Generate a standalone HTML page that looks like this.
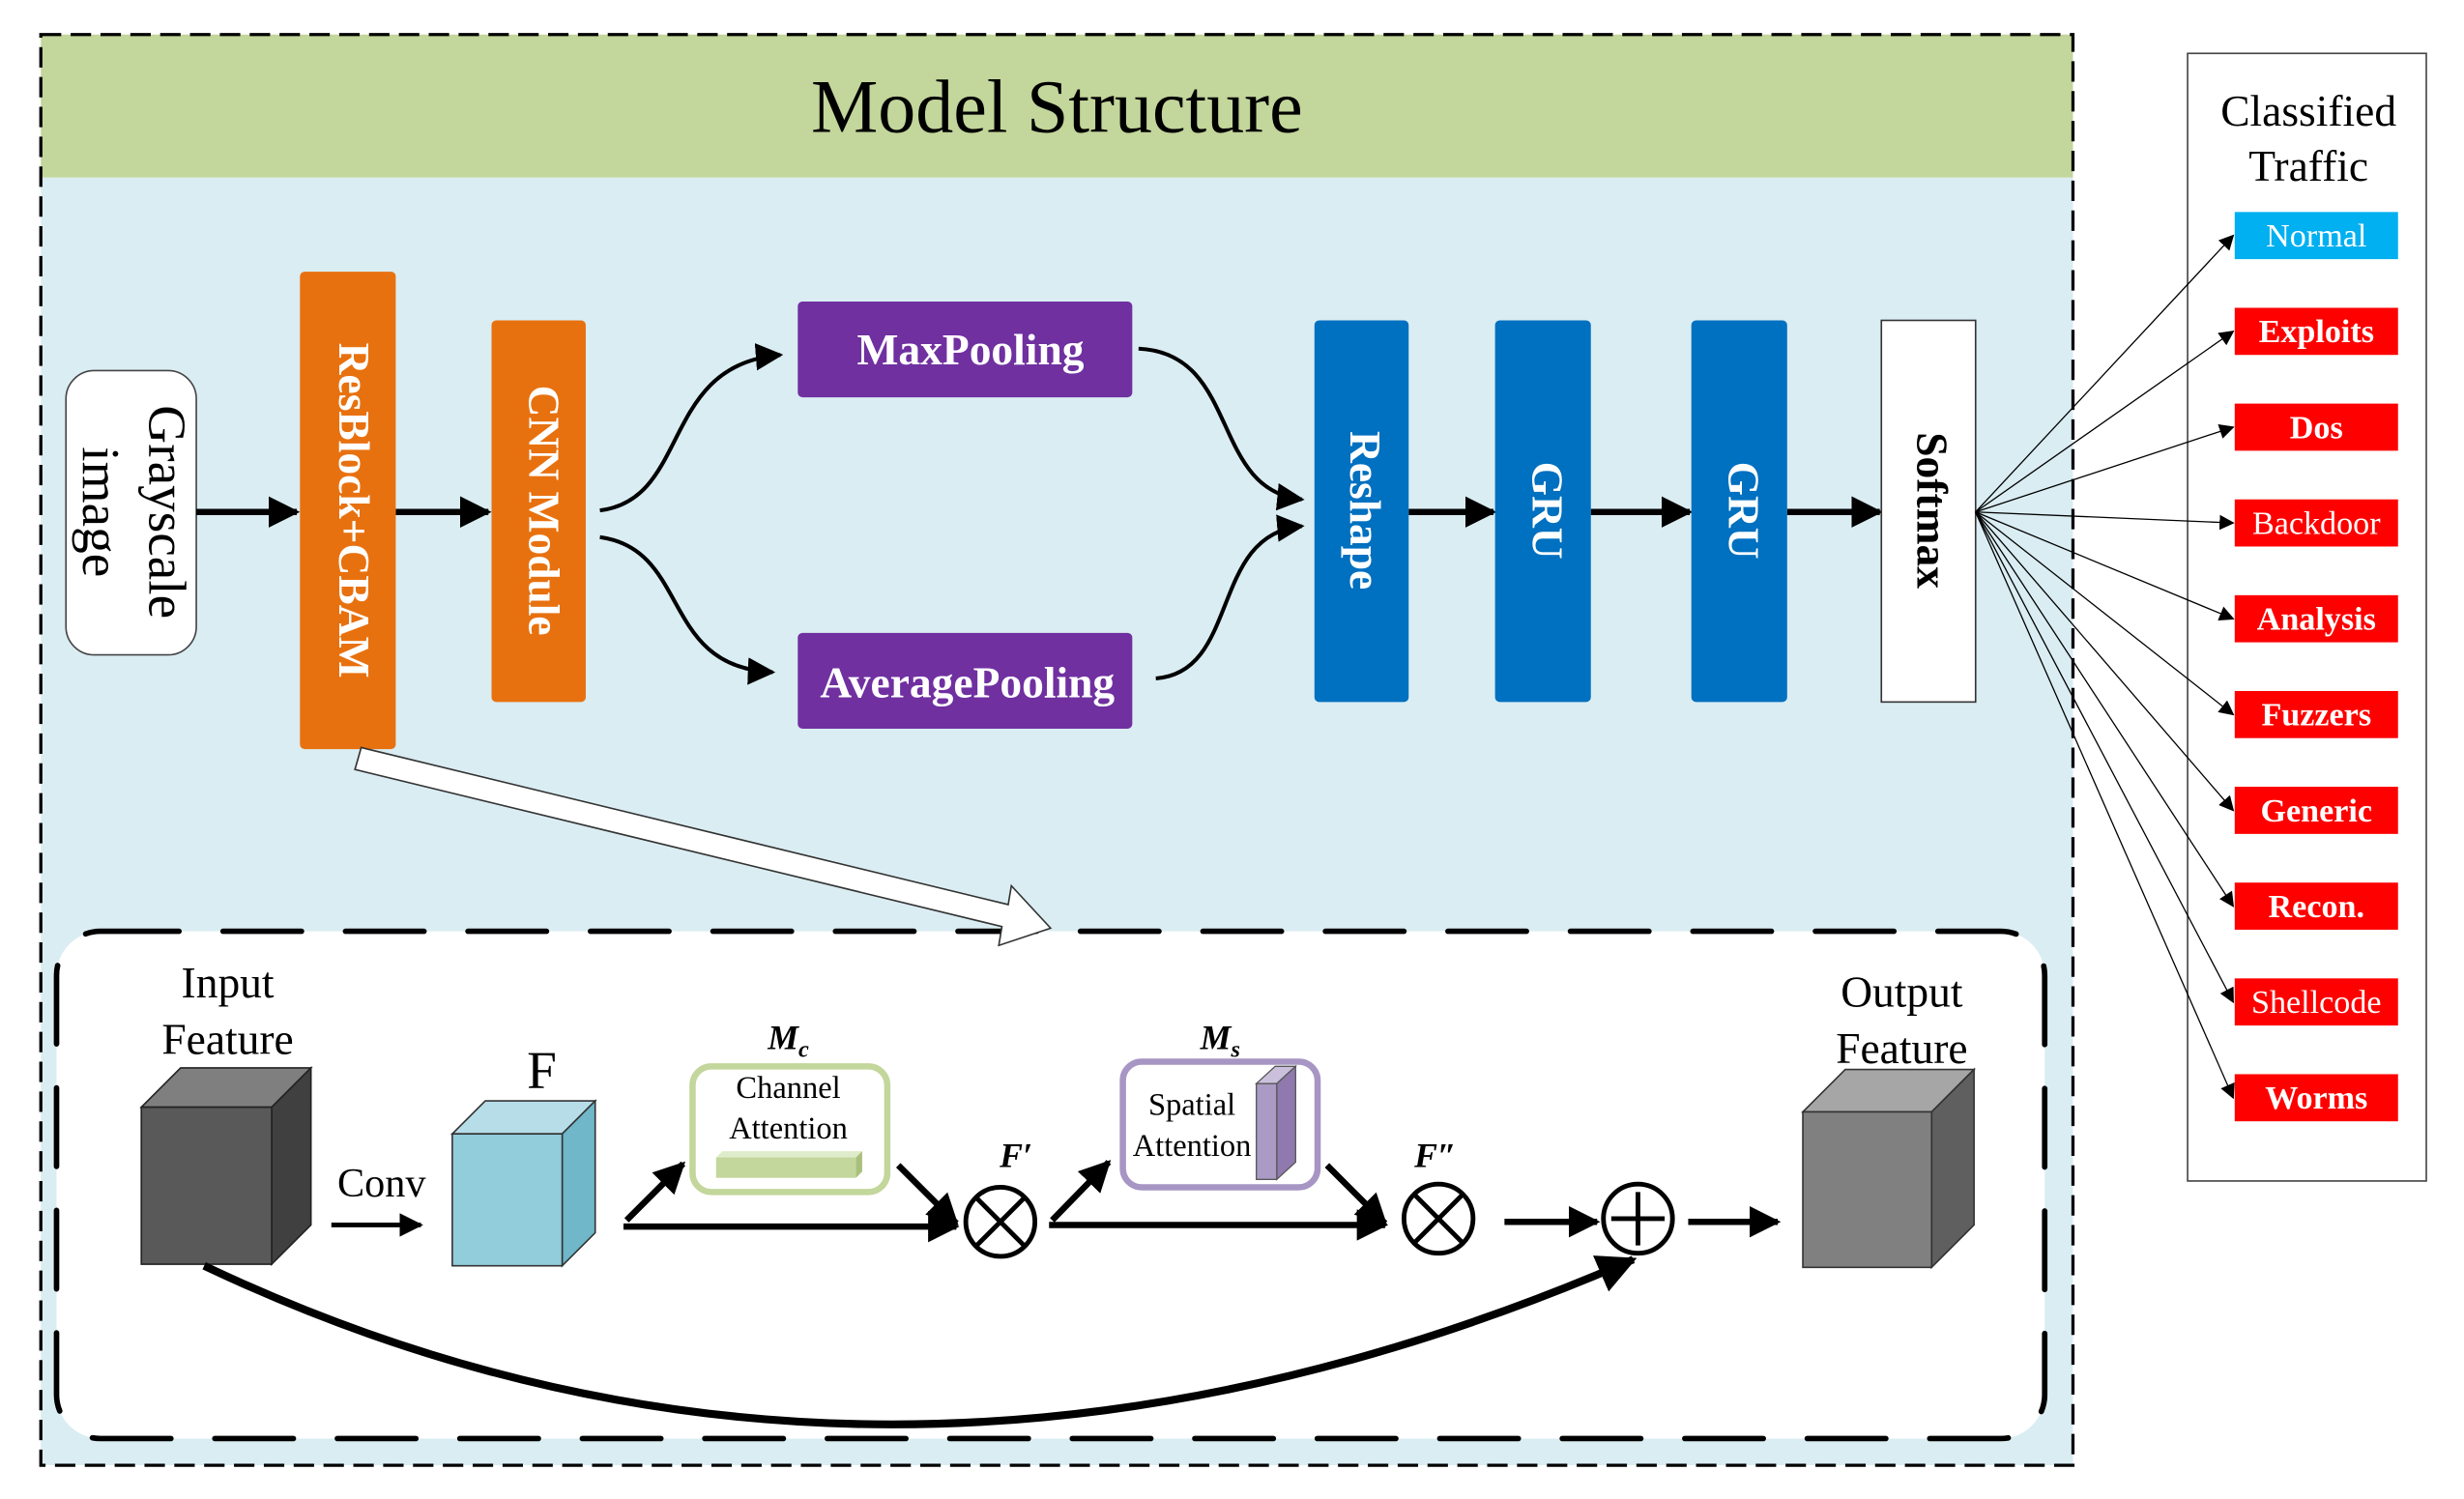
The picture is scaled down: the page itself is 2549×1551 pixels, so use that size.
<!DOCTYPE html>
<html><head><meta charset="utf-8"><style>html,body{margin:0;padding:0;background:#fff}svg{display:block}</style></head>
<body>
<svg width="2549" height="1551" viewBox="0 0 1569 954.5" preserveAspectRatio="none" xmlns="http://www.w3.org/2000/svg" font-family="Liberation Serif, serif">
<defs>
<marker id="ah" viewBox="0 0 10 10" refX="9" refY="5" markerWidth="5" markerHeight="5" orient="auto" markerUnits="strokeWidth"><path d="M0,0L10,5L0,10z" fill="#000"/></marker>
<marker id="ah2" viewBox="0 0 10 10" refX="9" refY="5" markerWidth="7" markerHeight="7" orient="auto" markerUnits="strokeWidth"><path d="M0,0L10,5L0,10z" fill="#000"/></marker>
<marker id="ah3" viewBox="0 0 10 10" refX="9" refY="5" markerWidth="12" markerHeight="12" orient="auto" markerUnits="strokeWidth"><path d="M0,0L10,5L0,10z" fill="#000"/></marker>
</defs>
<rect x="26" y="113" width="1294" height="820" fill="#daedf3"/>
<rect x="26" y="22" width="1294" height="91" fill="#c3d69b"/>
<rect x="26" y="22" width="1294" height="911" fill="none" stroke="#000" stroke-width="2" stroke-dasharray="13,6"/>
<text x="673" y="84" font-size="48" text-anchor="middle">Model Structure</text>

<rect x="42" y="236" width="83" height="181" rx="18" fill="#fff" stroke="#444" stroke-width="1"/>
<text transform="translate(95,326) rotate(90)" font-size="34" text-anchor="middle">Grayscale</text>
<text transform="translate(53,326) rotate(90)" font-size="34" text-anchor="middle">image</text>

<g stroke="#000" stroke-width="4" fill="none">
<line x1="125" y1="326" x2="189" y2="326" marker-end="url(#ah)"/>
<line x1="252" y1="326" x2="311" y2="326" marker-end="url(#ah)"/>
<line x1="897" y1="326" x2="951" y2="326" marker-end="url(#ah)"/>
<line x1="1013" y1="326" x2="1076" y2="326" marker-end="url(#ah)"/>
<line x1="1138" y1="326" x2="1197" y2="326" marker-end="url(#ah)"/>
</g>
<g stroke="#000" stroke-width="2.5" fill="none">
<path d="M382,325 C440,318 420,232 497,226" marker-end="url(#ah2)"/>
<path d="M382,342 C440,350 420,425 492,428" marker-end="url(#ah2)"/>
<path d="M725,222 C790,225 770,312 829,318" marker-end="url(#ah2)"/>
<path d="M736,432 C790,428 770,340 829,335" marker-end="url(#ah2)"/>
</g>

<rect x="191" y="173" width="61" height="304" rx="3" fill="#e8710f"/>
<text transform="translate(216,325) rotate(90)" font-size="28" font-weight="bold" fill="#fff" text-anchor="middle">ResBlock+CBAM</text>
<rect x="313" y="204" width="60" height="243" rx="3" fill="#e8710f"/>
<text transform="translate(337,325) rotate(90)" font-size="28" font-weight="bold" fill="#fff" text-anchor="middle">CNN Module</text>
<rect x="508" y="192" width="213" height="61" rx="3" fill="#7030a0"/>
<text x="618" y="232" font-size="28" font-weight="bold" fill="#fff" text-anchor="middle">MaxPooling</text>
<rect x="508" y="403" width="213" height="61" rx="3" fill="#7030a0"/>
<text x="616" y="444" font-size="28" font-weight="bold" fill="#fff" text-anchor="middle">AveragePooling</text>
<rect x="837" y="204" width="60" height="243" rx="3" fill="#0070c0"/>
<text transform="translate(860,325) rotate(90)" font-size="28" font-weight="bold" fill="#fff" text-anchor="middle">Reshape</text>
<rect x="952" y="204" width="61" height="243" rx="3" fill="#0070c0"/>
<text transform="translate(976,325) rotate(90)" font-size="28" font-weight="bold" fill="#fff" text-anchor="middle">GRU</text>
<rect x="1077" y="204" width="61" height="243" rx="3" fill="#0070c0"/>
<text transform="translate(1101,325) rotate(90)" font-size="28" font-weight="bold" fill="#fff" text-anchor="middle">GRU</text>
<rect x="1198" y="204" width="60" height="243" fill="#fff" stroke="#333" stroke-width="1"/>
<text transform="translate(1221,325) rotate(90)" font-size="28" font-weight="bold" fill="#000" text-anchor="middle">Softmax</text>

<rect x="1393" y="34" width="152" height="718" fill="#fff" stroke="#444" stroke-width="1"/>
<text x="1470" y="80" font-size="28" text-anchor="middle">Classified</text>
<text x="1470" y="115" font-size="28" text-anchor="middle">Traffic</text>
<g stroke="#000" stroke-width="0.8" fill="none">
<line x1="1258" y1="326" x2="1422" y2="150" marker-end="url(#ah3)"/>
<line x1="1258" y1="326" x2="1422" y2="211" marker-end="url(#ah3)"/>
<line x1="1258" y1="326" x2="1422" y2="272" marker-end="url(#ah3)"/>
<line x1="1258" y1="326" x2="1422" y2="333" marker-end="url(#ah3)"/>
<line x1="1258" y1="326" x2="1422" y2="394" marker-end="url(#ah3)"/>
<line x1="1258" y1="326" x2="1422" y2="455" marker-end="url(#ah3)"/>
<line x1="1258" y1="326" x2="1422" y2="516" marker-end="url(#ah3)"/>
<line x1="1258" y1="326" x2="1422" y2="577" marker-end="url(#ah3)"/>
<line x1="1258" y1="326" x2="1422" y2="638" marker-end="url(#ah3)"/>
<line x1="1258" y1="326" x2="1422" y2="699" marker-end="url(#ah3)"/>
</g>
<g font-size="21" fill="#fff" text-anchor="middle">
<rect x="1423" y="135" width="104" height="30" fill="#00b0f0"/><text x="1475" y="157">Normal</text>
<rect x="1423" y="196" width="104" height="30" fill="#ff0000"/><text x="1475" y="218" font-weight="bold">Exploits</text>
<rect x="1423" y="257" width="104" height="30" fill="#ff0000"/><text x="1475" y="279" font-weight="bold">Dos</text>
<rect x="1423" y="318" width="104" height="30" fill="#ff0000"/><text x="1475" y="340">Backdoor</text>
<rect x="1423" y="379" width="104" height="30" fill="#ff0000"/><text x="1475" y="401" font-weight="bold">Analysis</text>
<rect x="1423" y="440" width="104" height="30" fill="#ff0000"/><text x="1475" y="462" font-weight="bold">Fuzzers</text>
<rect x="1423" y="501" width="104" height="30" fill="#ff0000"/><text x="1475" y="523" font-weight="bold">Generic</text>
<rect x="1423" y="562" width="104" height="30" fill="#ff0000"/><text x="1475" y="584" font-weight="bold">Recon.</text>
<rect x="1423" y="623" width="104" height="30" fill="#ff0000"/><text x="1475" y="645">Shellcode</text>
<rect x="1423" y="684" width="104" height="30" fill="#ff0000"/><text x="1475" y="706" font-weight="bold">Worms</text>
</g>

<rect x="36" y="593" width="1266" height="323" rx="28" fill="#fff" stroke="#000" stroke-width="3.5" stroke-linecap="round" stroke-dasharray="50,28"/>
<path d="M230,476 L642,576 L644,564 L669,591 L636,602 L638,590 L226,490 Z" fill="#fff" stroke="#333" stroke-width="1"/>

<text x="145" y="635" font-size="28" text-anchor="middle">Input</text>
<text x="145" y="671" font-size="28" text-anchor="middle">Feature</text>
<polygon points="90,705 115,680 198,680 173,705" fill="#7f7f7f" stroke="#222" stroke-width="1"/>
<polygon points="173,705 198,680 198,780 173,805" fill="#404040" stroke="#222" stroke-width="1"/>
<rect x="90" y="705" width="83" height="100" fill="#595959" stroke="#222" stroke-width="1"/>

<text x="243" y="762" font-size="26" text-anchor="middle">Conv</text>
<line x1="211" y1="780" x2="268" y2="780" stroke="#000" stroke-width="3" marker-end="url(#ah)"/>

<text x="345" y="693" font-size="34" text-anchor="middle">F</text>
<polygon points="288,722 309,701 379,701 358,722" fill="#b7dee8" stroke="#333" stroke-width="1"/>
<polygon points="358,722 379,701 379,785 358,806" fill="#6fb7c9" stroke="#333" stroke-width="1"/>
<rect x="288" y="722" width="70" height="84" fill="#92cddc" stroke="#333" stroke-width="1"/>

<text x="502" y="668" font-size="22" font-weight="bold" font-style="italic" text-anchor="middle">M<tspan font-size="15" dy="5">c</tspan></text>
<rect x="441" y="679" width="124" height="80" rx="12" fill="#fff" stroke="#c3d69b" stroke-width="4"/>
<text x="502" y="699" font-size="20" text-anchor="middle">Channel</text>
<text x="502" y="725" font-size="20" text-anchor="middle">Attention</text>
<polygon points="456,737 460,733 549,733 545,737" fill="#dfeccb"/>
<polygon points="545,737 549,733 549,746 545,750" fill="#a9c07a"/>
<rect x="456" y="737" width="89" height="13" fill="#c3d69b"/>

<text x="777" y="668" font-size="22" font-weight="bold" font-style="italic" text-anchor="middle">M<tspan font-size="15" dy="5">s</tspan></text>
<rect x="715" y="676" width="124" height="80" rx="12" fill="#fff" stroke="#a795c3" stroke-width="4"/>
<text x="759" y="710" font-size="20" text-anchor="middle">Spatial</text>
<text x="759" y="736" font-size="20" text-anchor="middle">Attention</text>
<polygon points="800,690 812,679 825,679 813,690" fill="#cbc0dc" stroke="#555" stroke-width="0.8"/>
<polygon points="813,690 825,679 825,740 813,751" fill="#9079ae" stroke="#555" stroke-width="0.8"/>
<rect x="800" y="690" width="13" height="61" fill="#a99bc4" stroke="#555" stroke-width="0.8"/>

<g stroke="#000" stroke-width="4" fill="none">
<line x1="399" y1="777" x2="435" y2="741" marker-end="url(#ah)"/>
<line x1="397" y1="781" x2="609" y2="781" marker-end="url(#ah)"/>
<line x1="572" y1="742" x2="609" y2="779" marker-end="url(#ah)"/>
<line x1="670" y1="777" x2="706" y2="740" marker-end="url(#ah)"/>
<line x1="668" y1="780" x2="882" y2="780" marker-end="url(#ah)"/>
<line x1="845" y1="742" x2="882" y2="779" marker-end="url(#ah)"/>
<line x1="958" y1="778" x2="1017" y2="778" marker-end="url(#ah)"/>
<line x1="1075" y1="778" x2="1132" y2="778" marker-end="url(#ah)"/>
</g>
<g stroke="#000" stroke-width="3" fill="#fff">
<circle cx="637" cy="778" r="22"/><path d="M622,763L652,793M652,763L622,793"/>
<circle cx="916" cy="776" r="22"/><path d="M901,761L931,791M931,761L901,791"/>
<circle cx="1043" cy="776" r="22"/><path d="M1043,759V793M1026,776H1060"/>
</g>
<text x="647" y="743" font-size="22" font-weight="bold" font-style="italic" text-anchor="middle">F′</text>
<text x="914" y="743" font-size="22" font-weight="bold" font-style="italic" text-anchor="middle">F″</text>

<text x="1211" y="641" font-size="28" text-anchor="middle">Output</text>
<text x="1211" y="677" font-size="28" text-anchor="middle">Feature</text>
<polygon points="1148,708 1175,681 1257,681 1230,708" fill="#a6a6a6" stroke="#333" stroke-width="1"/>
<polygon points="1230,708 1257,681 1257,780 1230,807" fill="#5f5f5f" stroke="#333" stroke-width="1"/>
<rect x="1148" y="708" width="82" height="99" fill="#808080" stroke="#333" stroke-width="1"/>

<path d="M130,806 Q560,1010 1040,802" stroke="#000" stroke-width="5" fill="none" marker-end="url(#ah)"/>
</svg>
</body></html>
